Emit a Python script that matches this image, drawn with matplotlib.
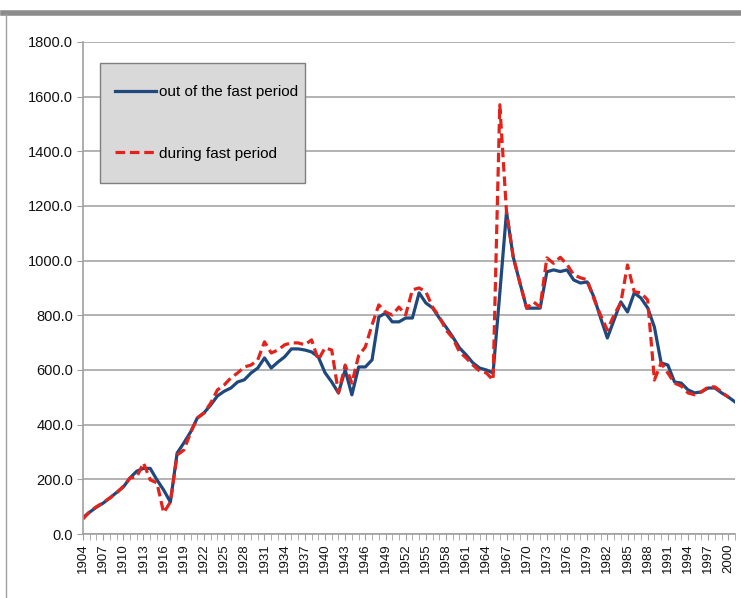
import matplotlib.pyplot as plt
from matplotlib.lines import Line2D
from matplotlib.patches import Rectangle, Shadow

plt.rcParams['font.family'] = ['Liberation Sans', 'DejaVu Sans']

years = list(range(1904, 2002))

# out of the fast period (1904-2001)
out_fast = [60, 80, 98, 113, 132, 152, 172, 205, 230, 240,
            240, 198, 161, 117, 296, 333, 373, 424, 443, 472,
            505, 522, 534, 556, 564, 589, 607, 644, 607, 629,
            648, 677, 677, 673, 666, 648, 590, 556, 516, 600,
            509, 611, 611, 637, 794, 808, 776, 776, 790, 790,
            882, 845, 827, 790, 757, 721, 681, 655, 626, 607,
            600, 589, 880, 1178, 1013, 918, 826, 826, 826, 959,
            966, 960, 966, 929, 918, 922, 867, 790, 717, 783,
            849, 812, 882, 863, 827, 757, 626, 618, 556, 552,
            527, 516, 520, 534, 534, 516, 501, 483]

# during fast period (1904-2000)
during_fast = [55, 82, 100, 115, 132, 150, 175, 205, 209, 260,
               198, 187, 78, 117, 289, 307, 370, 424, 443, 479,
               527, 545, 571, 589, 611, 618, 637, 703, 662, 673,
               692, 699, 699, 692, 710, 637, 681, 673, 516, 618,
               552, 652, 684, 765, 838, 812, 801, 830, 801, 893,
               900, 886, 830, 795, 746, 717, 666, 644, 618, 596,
               589, 563, 1570, 1178, 1013, 918, 826, 849, 830, 1010,
               990, 1012, 986, 948, 937, 930, 860, 800, 746, 801,
               846, 984, 886, 882, 856, 563, 626, 589, 552, 541,
               516, 509, 520, 538, 538, 520, 500]

yticks = list(range(0, 1801, 200))

fig = plt.figure(figsize=(7.41, 5.98), dpi=100)
ax = fig.add_axes([0.112, 0.107, 0.880, 0.823])

ax.plot(range(len(out_fast)), out_fast, color='#1f497d', lw=2.3,
        label='out of the fast period', solid_joinstyle='round')
ax.plot(range(len(during_fast)), during_fast, color='#e3231b', lw=2.3,
        ls=(0, (3, 1.5)), label='during fast period')

ax.set_xlim(0, len(years) - 1)
ax.set_ylim(0, 1800)
ax.set_yticks(yticks)
ax.set_yticklabels(['%.1f' % v for v in yticks], fontsize=10.5, color='#111111')
ax.set_xticks(range(0, len(years), 3))
ax.set_xticklabels([str(y) for y in years[::3]], rotation=90, fontsize=9.5, color='#111111')
ax.set_xticks(range(len(years)), minor=True)
ax.tick_params(axis='x', which='both', length=4, color='#a0a0a0', pad=3)
ax.tick_params(axis='y', length=4, color='#a0a0a0', pad=3)

ax.grid(axis='y', color='#a6a6a6', lw=1.2)
ax.set_axisbelow(True)
for s in ['top', 'right']:
    ax.spines[s].set_visible(False)
for s in ['left', 'bottom']:
    ax.spines[s].set_color('#a0a0a0')
    ax.spines[s].set_linewidth(1.2)

# legend box drawn by hand (tall box, tight on the right like the original)
box = Rectangle((0.026, 0.713), 0.314, 0.244, transform=ax.transAxes,
                facecolor='#d9d9d9', edgecolor='#7f7f7f', lw=1.0, zorder=5)
ax.add_patch(Shadow(box, 2.5, -2.5, zorder=4))
ax.add_patch(box)
leg = ax.legend(loc='center left', bbox_to_anchor=(0.049, 0.835), frameon=False,
                labelspacing=3.1, handlelength=2.7, handletextpad=0.2,
                borderpad=0, borderaxespad=0, fontsize=11)
leg.set_zorder(6)

# screenshot border
fig.add_artist(Line2D([0.004, 1.0], [0.979, 0.979], color='#8c8c8c', lw=4,
                      transform=fig.transFigure))
fig.add_artist(Line2D([0.008, 0.008], [0.0, 0.976], color='#a0a0a0', lw=1,
                      transform=fig.transFigure))

plt.savefig('out.png', dpi=100)
